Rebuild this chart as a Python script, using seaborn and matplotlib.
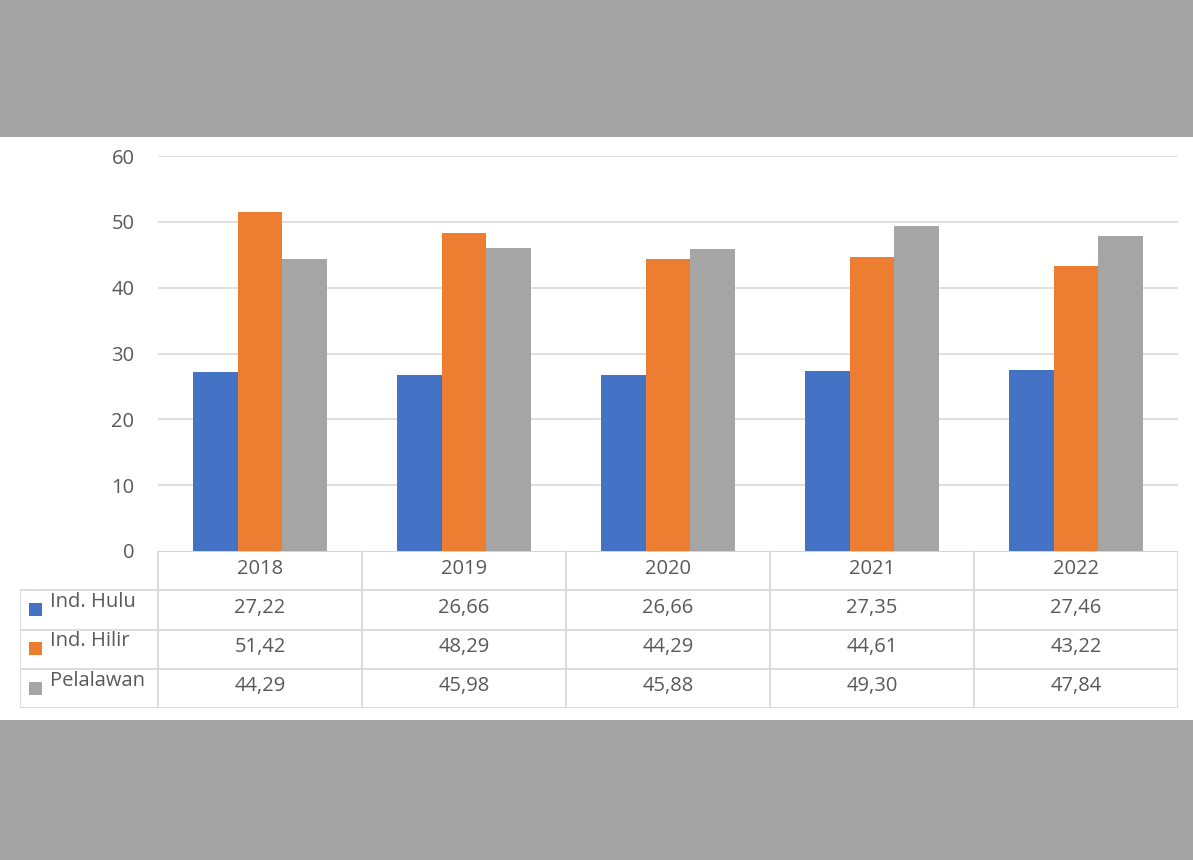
import numpy as np
import pandas as pd
import seaborn as sns
import matplotlib.pyplot as plt
from matplotlib.patches import Rectangle

# =========================
# DATA
# =========================
years = ["2018", "2019", "2020", "2021", "2022"]
series_names = ["Ind. Hulu", "Ind. Hilir", "Pelalawan"]
hulu = [27.22, 26.66, 26.66, 27.35, 27.46]
hilir = [51.42, 48.29, 44.29, 44.61, 43.22]
pelalawan = [44.29, 45.98, 45.88, 49.30, 47.84]
y_ticks = [0, 10, 20, 30, 40, 50, 60]

colors = ["#4472C4", "#ED7D31", "#A5A5A5"]
text_col = "#595959"
grid_col = "#d9d9d9"
fs = 14.5

df = pd.DataFrame({
    "year": years * 3,
    "series": np.repeat(series_names, len(years)),
    "value": hulu + hilir + pelalawan,
})

sns.set_theme(style="white")
plt.rcParams["font.family"] = ["Open Sans", "DejaVu Sans"]

W, H = 1193, 860
fig = plt.figure(figsize=(W / 100, H / 100), dpi=100)
fig.patch.set_facecolor("#a3a3a3")

# white panel (behind the axes)
fig.patches.append(Rectangle((0, (H - 720) / H), 1, (720 - 137) / H,
                             transform=fig.transFigure, facecolor="white",
                             edgecolor="none", zorder=-10))

# =========================
# BAR CHART
# =========================
ax_l, ax_r, ax_top, ax_bot = 158, 1178, 156, 551
ax = fig.add_axes([ax_l / W, (H - ax_bot) / H, (ax_r - ax_l) / W, (ax_bot - ax_top) / H])
ax.set_facecolor("none")

sns.barplot(data=df, x="year", y="value", hue="series", palette=colors,
            width=0.66, gap=0, ax=ax, legend=False, saturation=1,
            linewidth=0, edgecolor="none")

ax.set_ylim(0, 60)
ax.set_xlim(-0.5, 4.5)
ax.set_yticks(y_ticks)
ax.set_yticklabels([str(t) for t in y_ticks], color=text_col, fontsize=fs)
ax.tick_params(axis="y", length=0, pad=17)
ax.set_xticks([])
ax.set_xlabel("")
ax.set_ylabel("")
for t in y_ticks[1:]:
    ax.axhline(t, color=grid_col, lw=1.2, zorder=0)
for s in ax.spines.values():
    s.set_visible(False)

# =========================
# DATA TABLE
# =========================
tab_left, tab_bot = 20, 708
col_w = (ax_r - ax_l) / 5
label_w = (ax_l - tab_left) / col_w
tax = fig.add_axes([tab_left / W, (H - tab_bot) / H, (ax_r - tab_left) / W, (tab_bot - ax_bot) / H])
tax.set_xlim(-0.5 - label_w, 4.5)
tax.set_ylim(4, 0)
tax.axis("off")

lkw = dict(color=grid_col, lw=1.3, solid_capstyle="butt")
# header top line (axis line)
tax.plot([-0.5, 4.5], [0, 0], color="#cfcfcf", lw=1.3)
for r in [1, 2, 3, 4]:
    tax.plot([-0.5 - label_w, 4.5], [r, r], **lkw)
for i in range(6):
    tax.plot([i - 0.5, i - 0.5], [0, 4], **lkw)
tax.plot([-0.5 - label_w] * 2, [1, 4], **lkw)

for i, yr in enumerate(years):
    tax.text(i, 0.46, yr, ha="center", va="center", color=text_col, fontsize=fs)

rows = [hulu, hilir, pelalawan]
for r, (name, vals, c) in enumerate(zip(series_names, rows, colors)):
    yc = r + 1.45
    tax.add_patch(Rectangle((-0.5 - label_w + 0.044, yc - 0.12), 0.066, 0.33,
                            facecolor=c, edgecolor="none"))
    tax.text(-0.5 - label_w + 0.145, yc - 0.15, name, ha="left", va="center",
             color=text_col, fontsize=fs)
    for i, v in enumerate(vals):
        tax.text(i, yc, f"{v:.2f}".replace(".", ","), ha="center", va="center",
                 color=text_col, fontsize=fs)

fig.savefig("out.png", dpi=100, facecolor=fig.get_facecolor())
